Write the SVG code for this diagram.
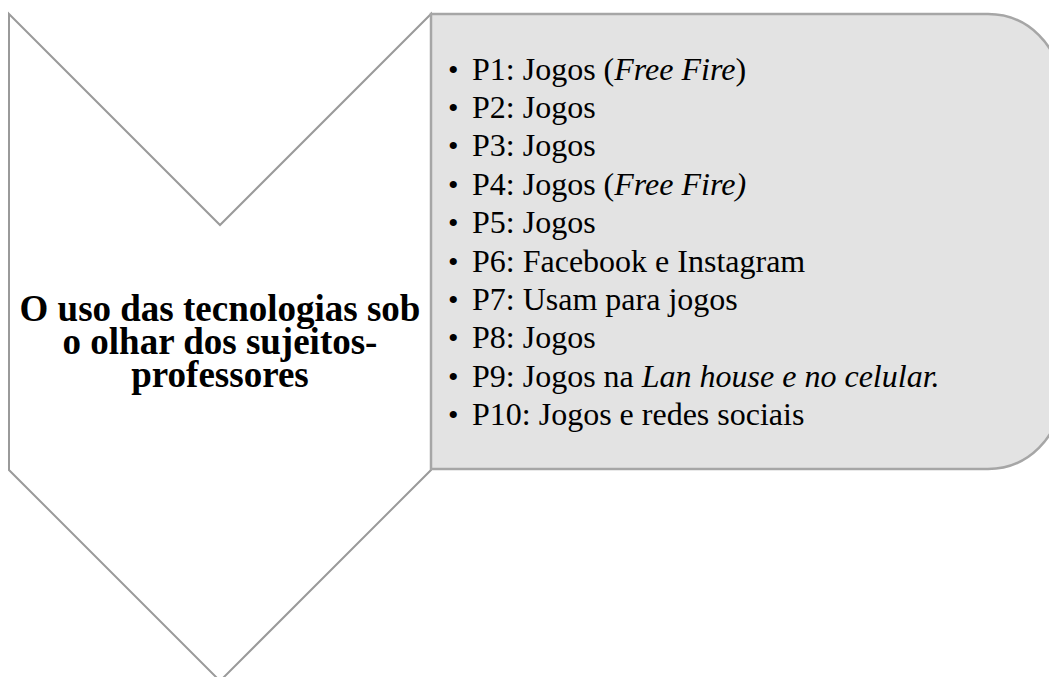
<svg xmlns="http://www.w3.org/2000/svg" width="1049" height="677" viewBox="0 0 1049 677">
<style>
.chev{fill:#ffffff;stroke:#9a9a9a;stroke-width:2}
.box{fill:#e3e3e3;stroke:#a6a6a6;stroke-width:2.5}
.it{font-style:italic}
</style>
<rect x="0" y="0" width="1049" height="677" fill="#ffffff"/>
<g id="chevron">
<polygon class="chev" points="9,14 220,225 431,14 431,470 220,681 9,470"/>
<g font-family="Liberation Serif, Times New Roman, serif" font-weight="bold" font-size="37" text-anchor="middle" fill="#000">
<text x="220" y="321">O uso das tecnologias sob</text>
<text x="220" y="354">o olhar dos sujeitos-</text>
<text x="220" y="387">professores</text>
</g>
</g>
<g id="list" font-family="Liberation Serif, Times New Roman, serif" font-size="32" fill="#000">
<path class="box" d="M431,14 H988 A72,72 0 0 1 1060,86 V397 A72,72 0 0 1 988,469 H431 Z"/>
<g font-size="30">
<text x="448" y="79.5">•</text>
<text x="448" y="117.9">•</text>
<text x="448" y="156.3">•</text>
<text x="448" y="194.7">•</text>
<text x="448" y="233.1">•</text>
<text x="448" y="271.5">•</text>
<text x="448" y="309.9">•</text>
<text x="448" y="348.3">•</text>
<text x="448" y="386.7">•</text>
<text x="448" y="425.1">•</text>
</g>
<text x="472" y="79.5">P1: Jogos (<tspan class="it">Free Fire</tspan>)</text>
<text x="472" y="117.9">P2: Jogos</text>
<text x="472" y="156.3">P3: Jogos</text>
<text x="472" y="194.7">P4: Jogos (<tspan class="it">Free Fire)</tspan></text>
<text x="472" y="233.1">P5: Jogos</text>
<text x="472" y="271.5">P6: Facebook e Instagram</text>
<text x="472" y="309.9">P7: Usam para jogos</text>
<text x="472" y="348.3">P8: Jogos</text>
<text x="472" y="386.7">P9: Jogos na <tspan class="it">Lan house e no celular.</tspan></text>
<text x="472" y="425.1">P10: Jogos e redes sociais</text>
</g>
<g id="connectors"/>
</svg>
